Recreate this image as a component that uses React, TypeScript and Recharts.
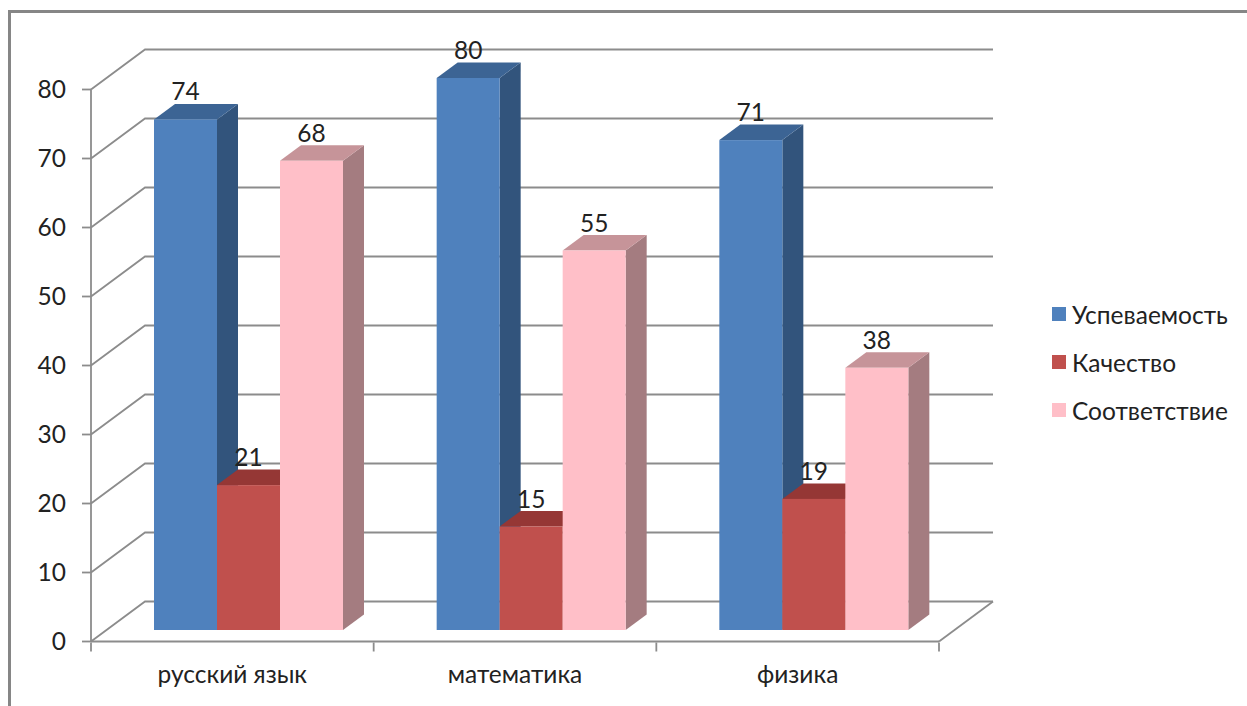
import { BarChart, Bar, XAxis, YAxis, CartesianGrid, Legend, LabelList } from "recharts";

const subjects = ["русский язык", "математика", "физика"];
const uspevaemost = [74, 80, 71];
const kachestvo = [21, 15, 19];
const sootvetstvie = [68, 55, 38];
const yTicks = [0, 10, 20, 30, 40, 50, 60, 70, 80];

const chartData = subjects.map((subject, i) => ({
  subject,
  uspevaemost: uspevaemost[i],
  kachestvo: kachestvo[i],
  sootvetstvie: sootvetstvie[i],
}));

const FONT = "Lato, sans-serif";
const LINE = "#8c8c8c";
const TEXT = "#222";
const FONT_SIZE = 24.5;
const PLOT_W = 848;

// wall depth and bar depth of the fake 3D box
const WALL_X = 54;
const WALL_Y = 40;
const BAR_X = 21;
const BAR_Y = 15.5;
const SHIFT_X = 16;
const SHIFT_Y = 11.5;

function WallLine({ x1, x2, y1, offset }: any) {
  const isFloor = Math.abs(y1 - (offset?.top + offset?.height)) < 1;
  return (
    <g fill="none" stroke={LINE} strokeWidth={1.8}>
      <polyline points={`${x1},${y1} ${x1 + WALL_X},${y1 - WALL_Y} ${x2 + WALL_X},${y1 - WALL_Y}`} />
      {isFloor && <line x1={x2} y1={y1} x2={x2 + WALL_X} y2={y1 - WALL_Y} />}
    </g>
  );
}

function box(topColor: string, sideColor: string) {
  return function Box({ x, y, width, height, fill }: any) {
    const left = x + SHIFT_X;
    const right = left + width;
    const top = y - SHIFT_Y;
    const bottom = top + height;
    return (
      <g>
        <polygon
          fill={sideColor}
          points={`${right},${top} ${right + BAR_X},${top - BAR_Y} ${right + BAR_X},${bottom - BAR_Y} ${right},${bottom}`}
        />
        <polygon
          fill={topColor}
          points={`${left},${top} ${left + BAR_X},${top - BAR_Y} ${right + BAR_X},${top - BAR_Y} ${right},${top}`}
        />
        <rect x={left} y={top} width={width} height={height} fill={fill} />
      </g>
    );
  };
}

function BarValue({ x, y, width, value }: any) {
  return (
    <text x={x + SHIFT_X + width / 2} y={y - SHIFT_Y - 19} textAnchor="middle" fontFamily={FONT} fontSize={FONT_SIZE} fill={TEXT}>
      {value}
    </text>
  );
}

function SubjectTick({ x, y, payload, index }: any) {
  const band = PLOT_W / subjects.length;
  return (
    <g>
      <line x1={x - band / 2} y1={y - 10} x2={x - band / 2} y2={y - 1} stroke={LINE} strokeWidth={1.8} />
      {index === subjects.length - 1 && (
        <line x1={x + band / 2} y1={y - 10} x2={x + band / 2} y2={y - 1} stroke={LINE} strokeWidth={1.8} />
      )}
      <text x={x} y={y + 30} textAnchor="middle" fontFamily={FONT} fontSize={FONT_SIZE} fill={TEXT}>
        {payload.value}
      </text>
    </g>
  );
}

function LegendList({ payload }: any) {
  return (
    <div style={{ fontFamily: FONT, fontSize: FONT_SIZE, color: TEXT }}>
      {(payload || []).map((item: any) => (
        <div key={item.value} style={{ height: 48, display: "flex", alignItems: "center" }}>
          <span style={{ width: 14, height: 14, background: item.color, marginRight: 6 }} />
          {item.value}
        </div>
      ))}
    </div>
  );
}

export default function App() {
  return (
    <div style={{ position: "absolute", left: 0, top: 0, width: 1247, height: 706, overflow: "hidden", background: "#fff" }}>
      <div
        style={{
          position: "absolute",
          left: 8,
          top: 10,
          width: 1239,
          height: 696,
          borderTop: "3px solid #868686",
          borderLeft: "3px solid #868686",
        }}
      />
      <div style={{ position: "absolute", left: 0, top: 0 }}>
        <BarChart
          width={1247}
          height={706}
          data={chartData}
          margin={{ top: 89.5, right: 118, bottom: 4.5, left: 21 }}
          barCategoryGap={47}
          barGap={0}
        >
          <CartesianGrid vertical={false} horizontal={(props: any) => <WallLine key={props.key} {...props} />} />
          <XAxis
            dataKey="subject"
            height={60}
            axisLine={{ stroke: LINE, strokeWidth: 1.8 }}
            tickLine={false}
            tickSize={9}
            interval={0}
            tick={SubjectTick}
          />
          <YAxis
            width={70}
            domain={[0, 80]}
            ticks={yTicks}
            axisLine={{ stroke: LINE, strokeWidth: 1.8 }}
            tickLine={{ stroke: LINE, strokeWidth: 1.8 }}
            tickSize={9}
            tickMargin={16}
            tick={{ fontFamily: FONT, fontSize: FONT_SIZE, fill: TEXT }}
          />
          <Legend
            layout="vertical"
            align="right"
            verticalAlign="top"
            itemSorter={null}
            wrapperStyle={{ left: 1052, top: 290, width: 190 }}
            content={LegendList}
          />
          <Bar dataKey="uspevaemost" name="Успеваемость" fill="#4f81bd" isAnimationActive={false} shape={box("#3c6494", "#32547c")}>
            <LabelList content={BarValue} />
          </Bar>
          <Bar dataKey="kachestvo" name="Качество" fill="#c0504d" isAnimationActive={false} shape={box("#953735", "#953735")}>
            <LabelList content={BarValue} />
          </Bar>
          <Bar dataKey="sootvetstvie" name="Соответствие" fill="#ffbfc8" isAnimationActive={false} shape={box("#c69499", "#a47c80")}>
            <LabelList content={BarValue} />
          </Bar>
        </BarChart>
      </div>
    </div>
  );
}
